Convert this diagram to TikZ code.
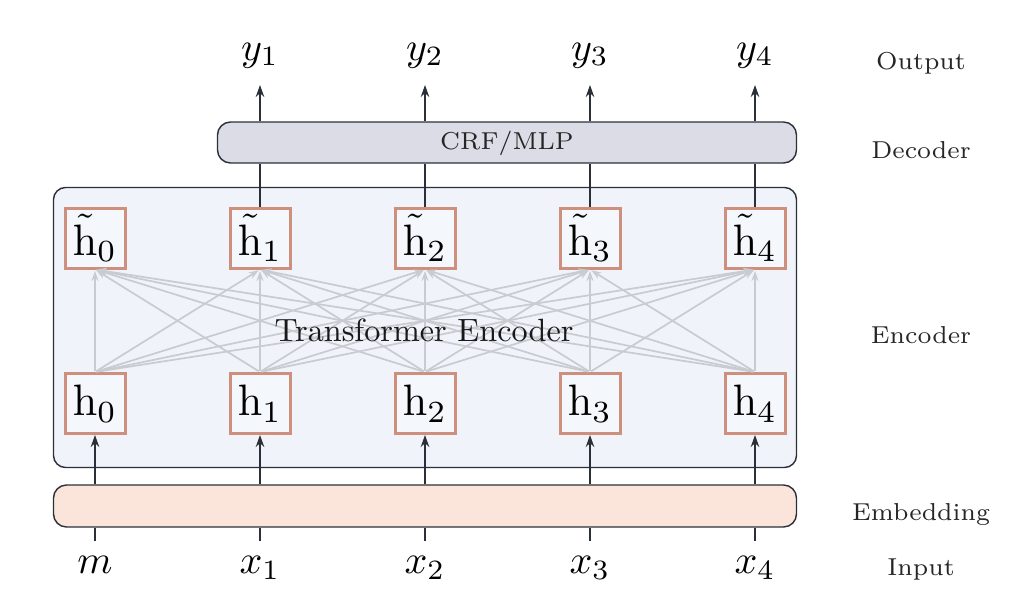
\documentclass[tikz,border=0pt]{standalone}
\usepackage{graphicx}
\usetikzlibrary{arrows.meta}
\definecolor{dark}{HTML}{2B3038}
\definecolor{encfill}{HTML}{F0F4FA}
\definecolor{crffill}{HTML}{DCDCE6}
\definecolor{embfill}{HTML}{FBE4D9}
\definecolor{hborder}{HTML}{CF8F7D}
\definecolor{garrow}{HTML}{C8CBD0}
\definecolor{hfill}{HTML}{F4F7FB}
\newcommand{\smalllab}[1]{\scalebox{3.5}{\fontsize{7}{8}\selectfont #1}}
\newcommand{\biglab}[1]{\scalebox{4}{#1}}
\newcommand{\hlab}[1]{\scalebox{4.4}{#1}}
\begin{document}
\begin{tikzpicture}[x=1pt,y=-1pt,
  hbox/.style={draw=hborder, line width=3pt, fill=hfill, minimum width=60pt, minimum height=60pt, inner sep=0pt},
  bigbox/.style={draw=dark, line width=1.4pt, inner sep=0pt},
  darr/.style={draw=dark, line width=1.8pt, -{Stealth[length=12pt,width=8.5pt]}},
  dline/.style={draw=dark, line width=1.8pt},
  garr/.style={draw=garrow, line width=1.7pt, -{Stealth[length=10pt,width=7pt]}, shorten <=1.5pt, shorten >=1.5pt},
  mlab/.style={inner sep=0pt, anchor=base, text=black},
  sidelab/.style={inner sep=0pt, anchor=base, text=black!85}
]
\useasboundingbox (0,0) rectangle (1022,610);
% big boxes
\node[bigbox, fill=encfill, rounded corners=12pt, minimum width=743pt, minimum height=280pt] (enc) at (425,327.5) {};
\node[bigbox, fill=crffill, rounded corners=13pt, minimum width=579pt, minimum height=41pt] (crf) at (507,142.5) {};
\node[bigbox, fill=embfill, rounded corners=13pt, minimum width=743pt, minimum height=42pt] (emb) at (425,506) {};
\node[sidelab] (crftext) at (507,149) {\smalllab{CRF/MLP}};
% h boxes
\foreach \i/\x in {0/95,1/260,2/425,3/590,4/755}{
  \node[hbox] (t\i) at (\x,238) {\hlab{$\tilde{\mathrm{h}}_{\i}$}};
  \node[hbox] (h\i) at (\x,403.5) {\hlab{$\mathrm{h}_{\i}$}};
}
% attention connections
\foreach \i in {0,...,4}{
  \foreach \j in {0,...,4}{
    \draw[garr] (h\i.north) -- (t\j.south);
  }
}
\node[inner sep=0pt, anchor=base, text=black!90] (tenc) at (424,341) {\scalebox{3.22}{Transformer Encoder}};
% outputs
\foreach \i/\x in {1/260,2/425,3/590,4/755}{
  \node[mlab] (y\i) at (\x,60) {\biglab{$y_{\i}$}};
  \coordinate (yt\i) at (\x,85);
  \draw[darr] (crf.north -| t\i) -- (yt\i);
  \draw[dline] (t\i.north) -- (crf.south -| t\i);
}
% inputs
\node[mlab] (x0) at (95,573) {\biglab{$m$}};
\foreach \i/\x in {1/260,2/425,3/590,4/755}{
  \node[mlab] (x\i) at (\x,573) {\biglab{$x_{\i}$}};
}
\foreach \i/\x in {0/95,1/260,2/425,3/590,4/755}{
  \coordinate (xt\i) at (\x,541);
  \draw[dline] (xt\i) -- (emb.south -| h\i);
  \draw[darr] (emb.north -| h\i) -- (h\i.south);
}
% side labels
\node[sidelab] (lout) at (921,70) {\smalllab{Output}};
\node[sidelab] (ldec) at (921,158) {\smalllab{Decoder}};
\node[sidelab] (lenc) at (921,343) {\smalllab{Encoder}};
\node[sidelab] (lemb) at (921,520) {\smalllab{Embedding}};
\node[sidelab] (linp) at (921,575) {\smalllab{Input}};
\end{tikzpicture}
\end{document}
